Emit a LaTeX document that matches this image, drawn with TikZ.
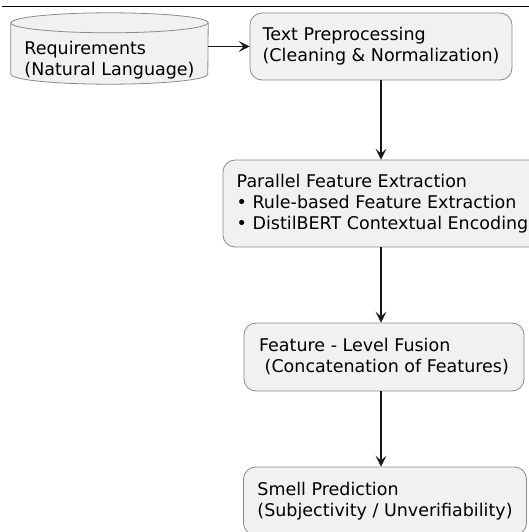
\documentclass[tikz,border=0pt]{standalone}
\usepackage{fontspec}
\setmainfont{DejaVu Sans}
\usetikzlibrary{arrows.meta}
\definecolor{boxfill}{HTML}{F1F1F1}
\definecolor{boxline}{HTML}{8A8A8A}
\definecolor{flowline}{HTML}{181818}
\tikzset{
  txt/.style={font=\fontsize{17.5}{21}\selectfont, align=left},
  box/.style={txt, draw=boxline, fill=boxfill, line width=.8pt, rounded corners=12pt},
  store/.style={inner sep=0pt, minimum width=197pt, minimum height=71pt},
  rim/.style={draw=boxline, line width=.8pt},
  flow/.style={draw=flowline, line width=1.2pt, -{Stealth[length=11pt,width=11pt,inset=5pt]}}
}
\begin{document}
\begin{tikzpicture}[x=1pt,y=-1pt]
\useasboundingbox (0,0) rectangle (529,532);
\draw[line width=1pt] (2,7) -- (529,7);
% input store (cylinder)
\node[store] (reqs) at (109.5,48.5) {};
\filldraw[rim, fill=boxfill]
  ([yshift=-10pt]reqs.north west) -- ([yshift=10pt]reqs.south west)
  arc[start angle=180, end angle=0, x radius=98.5, y radius=10]
  -- ([yshift=-10pt]reqs.north east)
  arc[start angle=0, end angle=-180, x radius=98.5, y radius=10];
\draw[rim] ([yshift=-10pt]reqs.north west)
  arc[start angle=180, end angle=0, x radius=98.5, y radius=10];
\node[txt, yshift=-12pt] (reqtext) at (reqs.center) {Requirements\\(Natural Language)};
% processing steps
\node[box, minimum width=262pt, minimum height=67pt] (prep) at (381,46.5)
  {Text Preprocessing\\(Cleaning \& Normalization)};
\node[box, minimum width=319pt, minimum height=87pt] (extract) at (382.5,203.5)
  {Parallel Feature Extraction\\• Rule-based Feature Extraction\\• DistilBERT Contextual Encoding};
\node[box, minimum width=280pt, minimum height=68pt] (fusion) at (384,357)
  {Feature - Level Fusion\\\hspace*{.32em}(Concatenation of Features)};
\node[box, minimum width=283pt, minimum height=68pt] (predict) at (385,501)
  {Smell Prediction\\(Subjectivity / Unverifiability)};
\draw[flow] (reqs.east |- prep.west) -- (prep.west);
\draw[flow] (prep.south) -- (prep.south |- extract.north);
\draw[flow] (prep.south |- extract.south) -- (prep.south |- fusion.north);
\draw[flow] (prep.south |- fusion.south) -- (prep.south |- predict.north);
\end{tikzpicture}
\end{document}
